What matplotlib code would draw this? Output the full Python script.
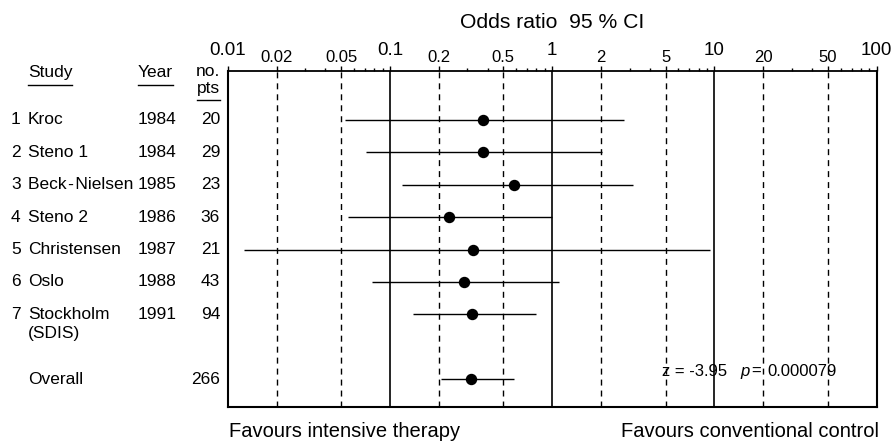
import numpy as np
import matplotlib
matplotlib.use('Agg')
import matplotlib.pyplot as plt
from matplotlib.transforms import blended_transform_factory
from matplotlib.lines import Line2D

plt.rcParams['font.family'] = ['Liberation Sans', 'DejaVu Sans']

# study table
numbers = ['1', '2', '3', '4', '5', '6', '7', '']
studies = ['Kroc', 'Steno 1', 'Beck\u200a-\u200aNielsen', 'Steno 2', 'Christensen', 'Oslo', 'Stockholm', 'Overall']
years = ['1984', '1984', '1985', '1986', '1987', '1988', '1991', '']
n_pts = ['20', '29', '23', '36', '21', '43', '94', '266']

# odds ratios with 95% CI
odds = [0.375, 0.375, 0.58, 0.23, 0.327, 0.286, 0.322, 0.318]
ci_low = [0.053, 0.071, 0.118, 0.055, 0.0126, 0.077, 0.138, 0.207]
ci_high = [2.79, 2.02, 3.14, 1.0, 9.4, 1.10, 0.80, 0.58]

# row position of each line (overall sits two rows below the last study)
rows = [1, 2, 3, 4, 5, 6, 7, 9]

fig = plt.figure(figsize=(8.92, 4.47), dpi=100)
W, H = 892.0, 447.0
ax = fig.add_axes([227.7 / W, 1 - 407 / H, 649 / W, 336 / H])

ax.set_xscale('log')
ax.set_xlim(0.01, 100)
ax.set_ylim(9.86, -0.51)
ax.set_yticks([])

# reference lines
for dec in [0.1, 1, 10]:
    ax.axvline(dec, color='black', lw=1.2, zorder=1)
for v in [0.02, 0.05, 0.2, 0.5, 2, 5, 20, 50]:
    ax.axvline(v, color='black', lw=1.0, linestyle=(0, (4.3, 3.6)), zorder=1)

# CI bars and point estimates
ax.hlines(rows, ci_low, ci_high, color='black', lw=1.0, zorder=2)
ax.plot(odds, rows, 'o', color='black', markersize=7.2, zorder=3)

for s in ax.spines.values():
    s.set_linewidth(1.5)
ax.spines['top'].set_linewidth(1.3)

# ticks on the top edge only
ax.xaxis.set_ticks_position('top')
major = [0.01, 0.1, 1, 10, 100]
mid = [0.02, 0.05, 0.2, 0.5, 2, 5, 20, 50]
ax.set_xticks(major + mid)
ax.set_xticks([m * d for d in [0.01, 0.1, 1, 10] for m in [3, 4, 6, 7, 8, 9]], minor=True)
ax.tick_params(axis='x', which='major', direction='out', length=3.5, width=1.0,
               labeltop=False, labelbottom=False)
ax.tick_params(axis='x', which='minor', direction='out', length=2.2, width=1.0)

for v, lab in zip(major, ['0.01', '0.1', '1', '10', '100']):
    ax.annotate(lab, (v, 1), xycoords=('data', 'axes fraction'), xytext=(0, 11.5),
                textcoords='offset points', ha='center', va='baseline', fontsize=13.5)
for v, lab in zip(mid, ['0.02', '0.05', '0.2', '0.5', '2', '5', '20', '50']):
    ax.annotate(lab, (v, 1), xycoords=('data', 'axes fraction'), xytext=(0, 6.7),
                textcoords='offset points', ha='center', va='baseline', fontsize=12)

fig.text(552 / W, 1 - 28 / H, 'Odds ratio  95 % CI', ha='center', va='baseline', fontsize=15.2)

# left-hand table
tr = blended_transform_factory(fig.transFigure, ax.transData)
fs = 12.5
for r, num, name, yr, n in zip(rows, numbers, studies, years, n_pts):
    ax.text(11 / W, r, num, transform=tr, ha='left', va='center', fontsize=fs)
    ax.text(27.7 / W, r, name, transform=tr, ha='left', va='center', fontsize=fs)
    ax.text(137.7 / W, r, yr, transform=tr, ha='left', va='center', fontsize=fs)
    ax.text(220 / W, r, n, transform=tr, ha='right', va='center', fontsize=fs)
ax.text(27.7 / W, 7 + 19 / 32.4, '(SDIS)', transform=tr, ha='left', va='center', fontsize=fs)

# column headers, underlined
hdr_study = fig.text(27.7 / W, 1 - 72.5 / H, 'Study', ha='left', va='center', fontsize=fs)
hdr_year = fig.text(137.7 / W, 1 - 72.5 / H, 'Year', ha='left', va='center', fontsize=fs)
fig.text(220 / W, 1 - 71.5 / H, 'no.', ha='right', va='center', fontsize=fs)
hdr_pts = fig.text(220 / W, 1 - 88 / H, 'pts', ha='right', va='center', fontsize=fs)

fig.canvas.draw()
rend = fig.canvas.get_renderer()
for t, y in [(hdr_study, 85), (hdr_year, 85), (hdr_pts, 100)]:
    bb = t.get_window_extent(rend)
    fig.add_artist(Line2D([bb.x0 / W, bb.x1 / W], [1 - y / H, 1 - y / H],
                          transform=fig.transFigure, color='black', lw=1.0))

# test statistic
ax.text(661.7 / W, 9 - 0.25, 'z = -3.95', transform=tr, ha='left', va='center', fontsize=12)
ax.text(740 / W, 9 - 0.25, 'p', transform=tr, ha='left', va='center', fontsize=12, style='italic')
ax.text(751.5 / W, 9 - 0.25, '=', transform=tr, ha='left', va='center', fontsize=12)
ax.text(767.5 / W, 9 - 0.25, '0.000079', transform=tr, ha='left', va='center', fontsize=12)

fig.text(229 / W, 1 - 437 / H, 'Favours intensive therapy', ha='left', va='baseline', fontsize=14.5)
fig.text(879 / W, 1 - 437 / H, 'Favours conventional control', ha='right', va='baseline', fontsize=14.5)

fig.savefig('out.png', dpi=100)
